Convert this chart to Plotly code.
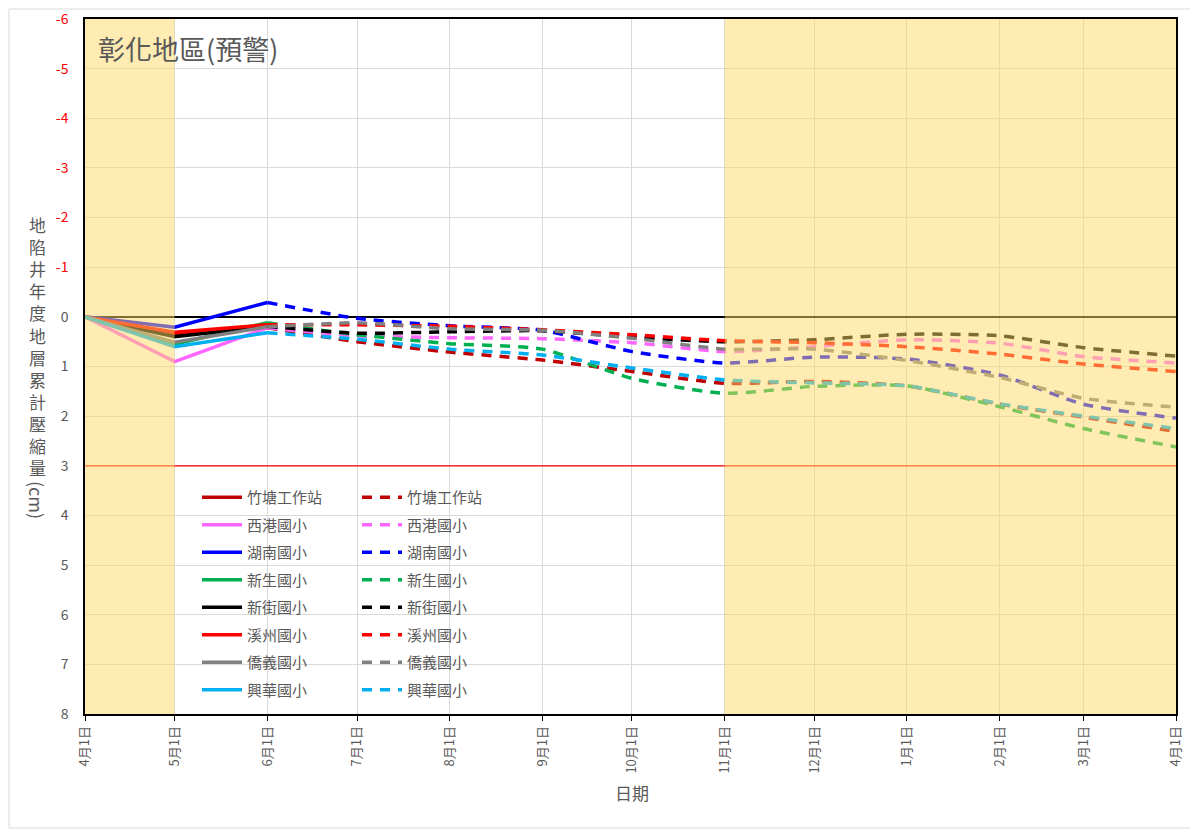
import plotly.graph_objects as go

# ---------------- data ----------------
stations = ["竹塘工作站", "西港國小", "湖南國小", "新生國小", "新街國小", "溪州國小", "僑義國小", "興華國小"]
colors = ["#C00000", "#FF66FF", "#0000FF", "#00B050", "#000000", "#FF0000", "#808080", "#00B0F0"]

solid_dates = ["2022-04-01", "2022-05-01", "2022-06-01"]
solid_values = {
    "竹塘工作站": [0, 0.35, 0.22],
    "西港國小": [0, 0.90, 0.22],
    "湖南國小": [0, 0.21, -0.29],
    "新生國小": [0, 0.55, 0.12],
    "新街國小": [0, 0.40, 0.19],
    "溪州國小": [0, 0.31, 0.16],
    "僑義國小": [0, 0.51, 0.20],
    "興華國小": [0, 0.60, 0.32],
}

dash_dates = ["2022-06-01", "2022-07-01", "2022-08-01", "2022-09-01", "2022-10-01", "2022-11-01",
              "2022-12-01", "2023-01-01", "2023-02-01", "2023-03-01", "2023-04-01"]
dash_values = {
    "竹塘工作站": [0.22, 0.50, 0.71, 0.87, 1.10, 1.34, 1.30, 1.39, 1.76, 2.02, 2.31],
    "西港國小": [0.22, 0.38, 0.42, 0.44, 0.52, 0.70, 0.60, 0.46, 0.53, 0.80, 0.93],
    "湖南國小": [-0.29, 0.03, 0.18, 0.27, 0.70, 0.93, 0.81, 0.85, 1.17, 1.76, 2.04],
    "新生國小": [0.12, 0.36, 0.54, 0.65, 1.24, 1.54, 1.40, 1.39, 1.81, 2.25, 2.62],
    "新街國小": [0.19, 0.33, 0.30, 0.28, 0.41, 0.50, 0.46, 0.35, 0.38, 0.62, 0.79],
    "溪州國小": [0.16, 0.16, 0.19, 0.26, 0.36, 0.48, 0.52, 0.60, 0.75, 0.95, 1.10],
    "僑義國小": [0.20, 0.12, 0.24, 0.27, 0.43, 0.65, 0.65, 0.88, 1.22, 1.64, 1.82],
    "興華國小": [0.32, 0.45, 0.65, 0.77, 1.03, 1.27, 1.33, 1.39, 1.75, 2.00, 2.25],
}

tick_dates = ["2022-04-01", "2022-05-01", "2022-06-01", "2022-07-01", "2022-08-01", "2022-09-01",
              "2022-10-01", "2022-11-01", "2022-12-01", "2023-01-01", "2023-02-01", "2023-03-01", "2023-04-01"]
tick_labels = ["4月1日", "5月1日", "6月1日", "7月1日", "8月1日", "9月1日", "10月1日",
               "11月1日", "12月1日", "1月1日", "2月1日", "3月1日", "4月1日"]
y_ticks = [-6, -5, -4, -3, -2, -1, 0, 1, 2, 3, 4, 5, 6, 7, 8]
warning_level = 3
warning_dates = ["2022-04-01", "2023-04-01"]
shade_ranges = [("2022-04-01", "2022-05-01"), ("2022-11-01", "2023-04-01")]

title_text = "彰化地區(預警)"
y_title_chars = "地陷井年度地層累計壓縮量"
y_title_unit = "(cm)"
x_title = "日期"

# ---------------- figure ----------------
FONT = "Noto Sans CJK TC"
GREY = "#595959"
fig = go.Figure()

# warning line (drawn first so it sits under the series)
fig.add_trace(go.Scatter(
    x=warning_dates, y=[warning_level] * len(warning_dates), mode="lines",
    line=dict(color="#FF0000", width=1.3), showlegend=False, hoverinfo="skip",
))

for i, (name, col) in enumerate(zip(stations, colors)):
    fig.add_trace(go.Scatter(
        x=solid_dates, y=solid_values[name], mode="lines", name=name,
        line=dict(color=col, width=3.5), legend="legend", legendgroup="s%d" % i,
    ))
for i, (name, col) in enumerate(zip(stations, colors)):
    fig.add_trace(go.Scatter(
        x=dash_dates, y=dash_values[name], mode="lines", name=name,
        line=dict(color=col, width=3.5, dash="10px,8px", shape="spline", smoothing=0.6),
        legend="legend2", legendgroup="d%d" % i,
    ))

ytext = []
for v in y_ticks:
    if v < 0:
        ytext.append('<span style="color:#FF0000">%d</span>' % v)
    else:
        ytext.append(str(v))

shapes = []
# shaded overlays
for a, b in shade_ranges:
    shapes.append(dict(type="rect", xref="x", yref="y domain", x0=a, x1=b, y0=0, y1=1,
                       fillcolor="rgba(255,217,102,0.5)", line=dict(width=0), layer="above"))

# page has an 8px body margin, so the figure is 8px smaller and shifted
W, L, R = 1091.0, 85.0, 22.0
H, T, B = 695.0, 19.0, 118.0
OFF = 8
shapes.append(dict(type="rect", xref="paper", yref="paper",
                   x0=(9 - L) / W, x1=(1192 - L) / W, y0=(714 - 828) / H, y1=(714 - 9) / H,
                   line=dict(color="#D9D9D9", width=1), fillcolor="rgba(0,0,0,0)", layer="below"))

annotations = [
    dict(text=title_text, xref="paper", yref="paper", x=(96 - L) / W, y=(714 - 49) / H,
         xanchor="left", yanchor="middle", showarrow=False,
         font=dict(family=FONT, size=27, color=GREY)),
    dict(text="<br>".join(list(y_title_chars)), xref="paper", yref="paper", x=(37 - L) / W, y=(714 - 346) / H,
         xanchor="center", yanchor="middle", showarrow=False, align="center",
         font=dict(family=FONT, size=17, color=GREY)),
    dict(text=y_title_unit, xref="paper", yref="paper", x=(37 - L) / W, y=(714 - 500) / H,
         xanchor="center", yanchor="middle", showarrow=False, textangle=90,
         font=dict(family=FONT, size=18, color=GREY)),
    dict(text=x_title, xref="paper", yref="paper", x=(632 - L) / W, y=(714 - 792) / H,
         xanchor="center", yanchor="middle", showarrow=False,
         font=dict(family=FONT, size=17, color=GREY)),
]

legend_common = dict(bgcolor="rgba(0,0,0,0)", font=dict(family=FONT, size=15, color=GREY),
                     orientation="v", traceorder="grouped", tracegroupgap=5,
                     yanchor="top", xanchor="left", itemwidth=40)

fig.update_layout(
    width=1198 - OFF, height=832 - OFF,
    margin=dict(l=L - OFF, r=R, t=T - OFF, b=B, autoexpand=False),
    plot_bgcolor="white", paper_bgcolor="white",
    showlegend=True,
    legend=dict(x=(197 - L) / W, y=(714 - 481) / H, **legend_common),
    legend2=dict(x=(357 - L) / W, y=(714 - 481) / H, **legend_common),
    xaxis=dict(
        type="date", range=["2022-04-01", "2023-04-01"],
        tickvals=tick_dates, ticktext=tick_labels, tickangle=-90,
        tickfont=dict(family=FONT, size=13, color=GREY),
        showgrid=True, gridcolor="#D9D9D9", gridwidth=1,
        showline=True, linecolor="black", linewidth=1.5, mirror=True,
        ticks="outside", ticklen=5, tickcolor="black",
    ),
    yaxis=dict(
        range=[8, -6], tickvals=y_ticks, ticktext=ytext,
        tickfont=dict(family=FONT, size=14, color=GREY),
        ticklabeloverflow="allow",
        showgrid=True, gridcolor="#D9D9D9", gridwidth=1,
        zeroline=True, zerolinecolor="black", zerolinewidth=1.5,
        showline=True, linecolor="black", linewidth=1.5, mirror=True,
        ticks="outside", ticklen=12, tickcolor="rgba(0,0,0,0)",
    ),
    shapes=shapes,
    annotations=annotations,
)

fig.write_html("out.html")
